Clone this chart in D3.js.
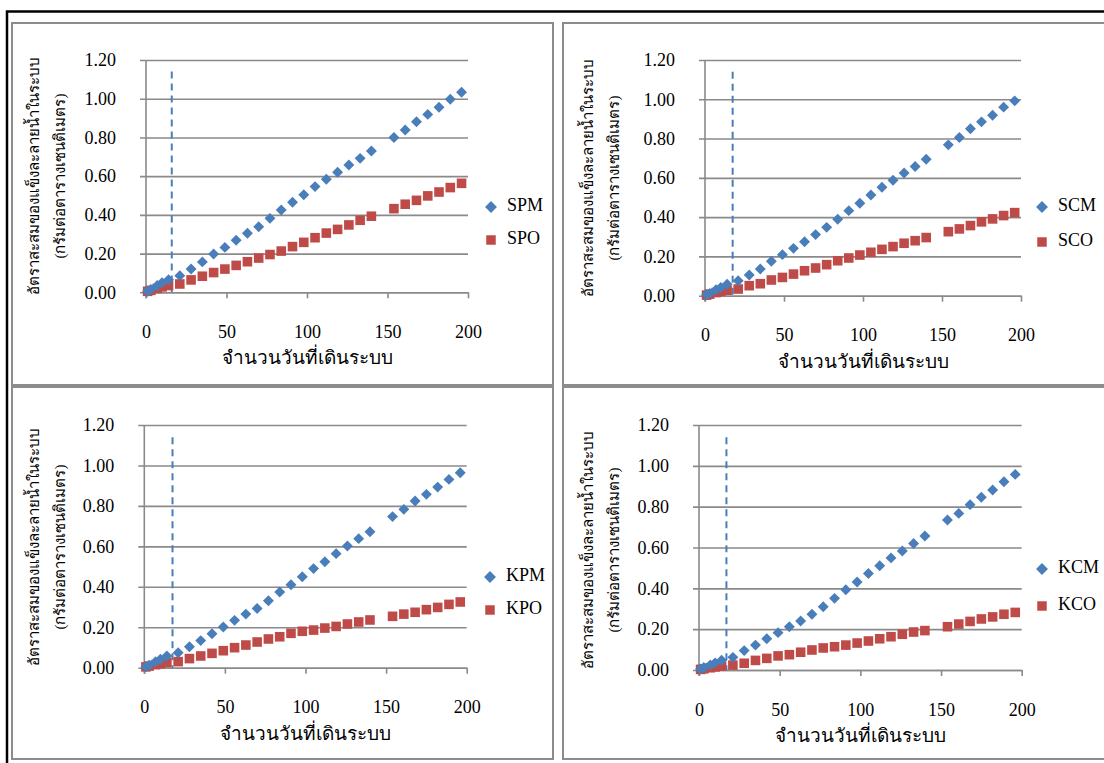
<!DOCTYPE html>
<html><head><meta charset="utf-8">
<script src="https://cdn.jsdelivr.net/npm/d3@7"></script>
<style>
html,body{margin:0;padding:0;background:#fff;}
svg{display:block;}
text{font-family:"Liberation Serif","Times New Roman",serif;fill:#000;}
</style></head>
<body>
<svg id="chart" width="1104" height="763"></svg>
<script>
// ---------- DATA ----------
const days = [1,3,7,10,14,21,28,35,42,49,56,63,70,77,84,91,98,105,112,119,126,133,140,154,161,168,175,182,189,196];
const xTicks = [0,50,100,150,200];
const yTicks = [0,0.2,0.4,0.6,0.8,1.0,1.2];
const xTitle = "จำนวนวันที่เดินระบบ";
const yTitle1 = "อัตราสะสมของแข็งละลายน้ำในระบบ";
const yTitle2 = "(กรัมต่อตารางเซนติเมตร)";

const seriesNames = [["SPM","SPO"],["SCM","SCO"],["KPM","KPO"],["KCM","KCO"]];
const refDay = [16,17.5,17.5,17];

const SPM = [0.005,0.015,0.035,0.050,0.065,0.086,0.120,0.157,0.198,0.232,0.269,0.305,0.339,0.382,0.425,0.465,0.504,0.546,0.584,0.620,0.658,0.692,0.730,0.800,0.838,0.881,0.919,0.956,0.997,1.033];
const SPO = [0.005,0.010,0.020,0.028,0.035,0.043,0.064,0.083,0.102,0.120,0.139,0.158,0.177,0.195,0.213,0.236,0.258,0.282,0.306,0.325,0.348,0.372,0.393,0.432,0.455,0.475,0.498,0.518,0.541,0.563];
const SCM = [0.005,0.012,0.030,0.042,0.058,0.076,0.105,0.136,0.175,0.209,0.241,0.275,0.311,0.348,0.389,0.433,0.471,0.513,0.552,0.588,0.625,0.658,0.695,0.768,0.805,0.850,0.885,0.919,0.960,0.992];
const SCO = [0.003,0.008,0.016,0.022,0.028,0.034,0.051,0.061,0.080,0.093,0.110,0.127,0.141,0.158,0.178,0.192,0.207,0.221,0.236,0.250,0.267,0.280,0.296,0.326,0.340,0.357,0.376,0.391,0.408,0.423];
const KPM = [0.005,0.012,0.030,0.042,0.058,0.074,0.104,0.134,0.168,0.201,0.234,0.265,0.293,0.331,0.374,0.410,0.450,0.490,0.524,0.564,0.602,0.638,0.672,0.747,0.783,0.824,0.857,0.893,0.931,0.964];
const KPO = [0.004,0.008,0.015,0.020,0.025,0.030,0.045,0.058,0.071,0.084,0.099,0.112,0.127,0.142,0.153,0.170,0.180,0.186,0.196,0.204,0.216,0.226,0.236,0.254,0.265,0.274,0.287,0.298,0.313,0.325];
const KCM = [0.005,0.012,0.025,0.035,0.048,0.062,0.095,0.122,0.153,0.183,0.212,0.240,0.273,0.310,0.351,0.393,0.431,0.473,0.511,0.549,0.583,0.620,0.656,0.735,0.767,0.810,0.846,0.882,0.922,0.958];
const KCO = [0.003,0.006,0.011,0.015,0.019,0.024,0.033,0.047,0.057,0.069,0.075,0.087,0.098,0.108,0.114,0.122,0.132,0.142,0.153,0.163,0.175,0.186,0.193,0.212,0.225,0.238,0.250,0.260,0.273,0.282];
const panelData = [[SPM,SPO],[SCM,SCO],[KPM,KPO],[KCM,KCO]];

// ---------- LAYOUT ----------
const BLUE = "#4A7EBB", RED = "#BE4B48", GRID = "#8a8a8a";
const SERIF = "'Liberation Serif','Times New Roman',serif";
const panels = [
  {box:[12,23,541,362], x0:146, x1:468, yTop:60, yBot:292.3, ytx:[36,62], yty:176, leg:[491,207,240]},
  {box:[563,23,560,362], x0:705, x1:1021, yTop:60, yBot:295.7, ytx:[590,616], yty:178, leg:[1042,207,242]},
  {box:[12,387,541,372], x0:144.3, x1:466.7, yTop:425, yBot:667.7, ytx:[36,62], yty:547, leg:[490,577,610]},
  {box:[563,387,560,372], x0:699, x1:1021.7, yTop:425, yBot:670, ytx:[590,616], yty:550, leg:[1042,569,606]}
];

const svg = d3.select("#chart");
svg.append("rect").attr("width",1104).attr("height",763).attr("fill","#fff");
// outer black frame
svg.append("rect").attr("x",7).attr("y",11.5).attr("width",1120).attr("height",780)
  .attr("fill","none").attr("stroke","#000").attr("stroke-width",2.5);

const diamond = d3.symbol().type(d3.symbolDiamond2).size(76);
const square = d3.symbol().type(d3.symbolSquare).size(92);

panels.forEach((p,i)=>{
  const g = svg.append("g");
  g.append("rect").attr("x",p.box[0]).attr("y",p.box[1]).attr("width",p.box[2]).attr("height",p.box[3])
    .attr("fill","#fff").attr("stroke","#8c8c8c").attr("stroke-width",2);

  const x = d3.scaleLinear().domain([0,200]).range([p.x0,p.x1]);
  const y = d3.scaleLinear().domain([0,1.2]).range([p.yBot,p.yTop]);

  // gridlines + y axis
  const ya = d3.axisLeft(y).tickValues(yTicks).tickFormat(d3.format(".2f"))
    .tickSize(-(p.x1-p.x0)).tickSizeOuter(0);
  const yg = g.append("g").attr("transform",`translate(${p.x0},0)`).call(ya)
    .attr("font-family",null).attr("font-size",null);
  yg.select(".domain").remove();
  yg.selectAll(".tick line").attr("stroke",GRID).attr("stroke-width",1.6).attr("x1",-6);
  yg.selectAll(".tick text").attr("x",-30)
    .style("font-family",SERIF).style("font-size","18px").style("fill","#000");

  // x axis
  const xa = d3.axisBottom(x).tickValues(xTicks).tickSize(6).tickSizeOuter(0);
  const xg = g.append("g").attr("transform",`translate(0,${p.yBot})`).call(xa)
    .attr("font-family",null).attr("font-size",null);
  xg.select(".domain").attr("stroke",GRID).attr("stroke-width",1.6);
  xg.selectAll(".tick line").attr("stroke",GRID).attr("stroke-width",1.6);
  xg.selectAll(".tick text").attr("y",33).attr("dy","0.71em")
    .style("font-family",SERIF).style("font-size","18px").style("fill","#000");
  // y axis line
  g.append("line").attr("x1",p.x0).attr("x2",p.x0).attr("y1",y(1.2)).attr("y2",y(0)+6)
    .attr("stroke",GRID).attr("stroke-width",1.6);

  // dashed reference line
  g.append("line").attr("x1",x(refDay[i])).attr("x2",x(refDay[i])).attr("y1",y(1.14)).attr("y2",y(0))
    .attr("stroke",BLUE).attr("stroke-width",2).attr("stroke-dasharray","7,5");

  const [m,o] = panelData[i];
  // red squares
  g.append("g").selectAll("path").data(days.map((d,k)=>[d,o[k]])).join("path")
    .attr("d",square).attr("transform",d=>`translate(${x(d[0])},${y(d[1])})`).attr("fill",RED);
  // blue diamonds
  g.append("g").selectAll("path").data(days.map((d,k)=>[d,m[k]])).join("path")
    .attr("d",diamond).attr("transform",d=>`translate(${x(d[0])},${y(d[1])})`).attr("fill",BLUE);

  // titles
  g.append("text").attr("x",(p.x0+p.x1)/2).attr("y",p.yBot+72).attr("text-anchor","middle")
    .style("font-size","19px").text(xTitle);
  g.append("text").attr("transform",`translate(${p.ytx[0]},${p.yty}) rotate(-90)`)
    .attr("text-anchor","middle").attr("dominant-baseline","middle").style("font-size","15px").text(yTitle1);
  g.append("text").attr("transform",`translate(${p.ytx[1]},${p.yty}) rotate(-90)`)
    .attr("text-anchor","middle").attr("dominant-baseline","middle").style("font-size","15px").text(yTitle2);

  // legend
  g.append("path").attr("d",d3.symbol().type(d3.symbolDiamond2).size(90))
    .attr("transform",`translate(${p.leg[0]},${p.leg[1]})`).attr("fill",BLUE);
  g.append("path").attr("d",d3.symbol().type(d3.symbolSquare).size(90))
    .attr("transform",`translate(${p.leg[0]},${p.leg[2]})`).attr("fill",RED);
  g.append("text").attr("x",p.leg[0]+16).attr("y",p.leg[1]).attr("dominant-baseline","middle")
    .style("font-size","18px").text(seriesNames[i][0]);
  g.append("text").attr("x",p.leg[0]+16).attr("y",p.leg[2]).attr("dominant-baseline","middle")
    .style("font-size","18px").text(seriesNames[i][1]);
});
</script>
</body></html>
